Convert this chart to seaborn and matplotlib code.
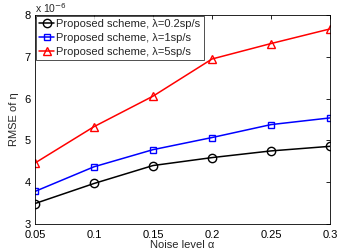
import pandas as pd
import matplotlib
matplotlib.use("Agg")
import matplotlib.pyplot as plt
import seaborn as sns

noise = [0.05, 0.1, 0.15, 0.2, 0.25, 0.3]
rmse_02 = [3.49, 3.97, 4.40, 4.59, 4.75, 4.86]
rmse_1 = [3.78, 4.37, 4.78, 5.07, 5.38, 5.54]
rmse_5 = [4.46, 5.33, 6.06, 6.95, 7.32, 7.67]
labels = ["Proposed scheme, λ=0.2sp/s", "Proposed scheme, λ=1sp/s", "Proposed scheme, λ=5sp/s"]

sns.set_theme(style="white")
plt.rcParams["font.family"] = ["Liberation Sans", "DejaVu Sans"]
plt.rcParams["font.size"] = 7.5

fig = plt.figure(figsize=(3.46, 2.52), dpi=100)
ax = fig.add_axes([0.101, 0.111, 0.853, 0.829])

series = [(rmse_02, "black", "o"), (rmse_1, "#0000ff", "s"), (rmse_5, "#ff0000", "^")]
for (vals, col, mk), lab in zip(series, labels):
    df = pd.DataFrame({"noise": noise, "rmse": vals})
    sns.lineplot(data=df, x="noise", y="rmse", ax=ax, color=col, marker=mk,
                 markersize=6 if mk != "s" else 5, markerfacecolor="none",
                 markeredgecolor=col, markeredgewidth=1, linewidth=1.1, label=lab)

ax.set_xlim(0.05, 0.3)
ax.set_ylim(3, 8)
ax.set_xticks(noise)
ax.set_xticklabels(["0.05", "0.1", "0.15", "0.2", "0.25", "0.3"])
ax.set_yticks([3, 4, 5, 6, 7, 8])
ax.tick_params(direction="in", length=3, top=True, right=True, labelsize=8,
               pad=3, colors="black", width=0.6)
ax.tick_params(axis="x", pad=4)
for s in ax.spines.values():
    s.set_color("black")
    s.set_linewidth(0.6)
ax.set_xlabel("Noise level α", fontsize=8, labelpad=0)
ax.set_ylabel("RMSE of η", fontsize=8, labelpad=4)
ax.text(0.0, 1.0, "x 10$^{-6}$", transform=ax.transAxes, fontsize=7.5, va="bottom", ha="left")

leg = ax.legend(loc="upper left", fontsize=8, frameon=True, fancybox=False,
                edgecolor="black", borderpad=0.3, labelspacing=0.35,
                handlelength=1.4, handletextpad=0.15, borderaxespad=0.05)
leg.get_frame().set_linewidth(0.6)

fig.savefig("out.png", dpi=100)
